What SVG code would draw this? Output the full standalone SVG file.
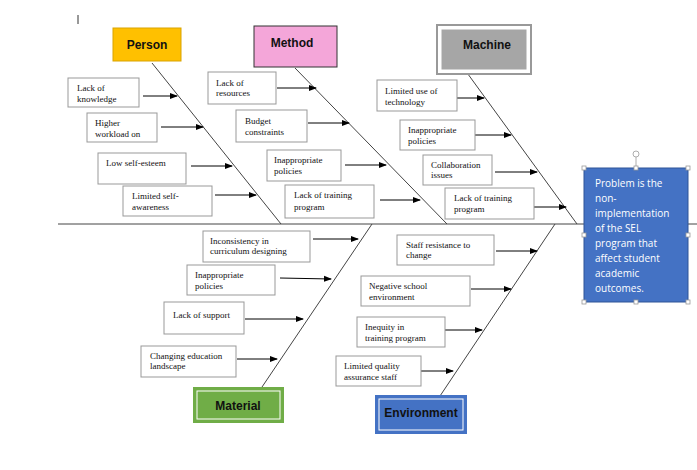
<svg xmlns="http://www.w3.org/2000/svg" width="697" height="470" viewBox="0 0 697 470">
<defs><marker id="ah" markerWidth="8" markerHeight="8" refX="7" refY="4" orient="auto" markerUnits="userSpaceOnUse"><path d="M0,1 L8,4 L0,7 Z" fill="#000"/></marker></defs>
<style>
.c rect{fill:#fff;stroke:#999;stroke-width:1}
.c text{font-family:"Liberation Serif",serif;font-size:9px;fill:#111}
.h{font-family:"Liberation Sans",Arial,sans-serif;font-size:12px;font-weight:bold;fill:#111;text-anchor:middle}
.a line{stroke:#000;stroke-width:1;marker-end:url(#ah)}
.b line{stroke:#444;stroke-width:1}
.hd{fill:#fff;stroke:#999;stroke-width:0.8}
</style>
<rect width="697" height="470" fill="#fff"/>
<line x1="78" y1="15" x2="78" y2="24" stroke="#333"/>
<g id="bones" class="b">
<line x1="58" y1="224" x2="697" y2="224"/>
<line x1="152" y1="63" x2="281" y2="224"/>
<line x1="295" y1="68" x2="447" y2="224"/>
<line x1="465" y1="70" x2="577" y2="224"/>
<line x1="262" y1="387" x2="372" y2="224"/>
<line x1="440" y1="396" x2="555" y2="224"/>
</g>
<g id="connectors" class="a">
<line x1="143" y1="96" x2="177" y2="96"/>
<line x1="161" y1="127" x2="203" y2="127"/>
<line x1="191" y1="166" x2="232" y2="166"/>
<line x1="215" y1="195" x2="256" y2="195"/>
<line x1="277" y1="88" x2="316" y2="88"/>
<line x1="308" y1="123" x2="349" y2="123"/>
<line x1="345" y1="165" x2="386" y2="165"/>
<line x1="380" y1="200" x2="420" y2="200"/>
<line x1="455" y1="98" x2="484" y2="98"/>
<line x1="475" y1="135" x2="511" y2="135"/>
<line x1="495" y1="172" x2="537" y2="172"/>
<line x1="534" y1="207" x2="566" y2="207"/>
<line x1="313" y1="239" x2="358" y2="239"/>
<line x1="280" y1="278" x2="331" y2="279"/>
<line x1="245" y1="319" x2="303" y2="319"/>
<line x1="237" y1="359" x2="277" y2="359"/>
<line x1="496" y1="251" x2="537" y2="251"/>
<line x1="471" y1="289" x2="511" y2="289"/>
<line x1="445" y1="330" x2="482" y2="330"/>
<line x1="421" y1="371" x2="453" y2="371"/>
</g>
<g id="person"><rect x="113" y="28" width="68" height="33" fill="#ffc000" stroke="#d9a300"/><text class="h" x="147" y="49">Person</text></g>
<g id="method"><rect x="254" y="26" width="83" height="41" fill="#f4a6d9" stroke="#333"/><text class="h" x="292" y="47">Method</text></g>
<g id="machine"><rect x="437" y="25" width="94" height="49" fill="#fff" stroke="#999" stroke-width="2"/><rect x="441" y="29" width="86" height="41" fill="#a6a6a6" stroke="#fff" stroke-width="1"/><text class="h" x="487" y="49">Machine</text></g>
<g id="material"><rect x="193" y="387" width="91" height="36" fill="#70ad47"/><rect x="197" y="391" width="83" height="28" fill="#70ad47" stroke="#fff"/><text class="h" x="238" y="410">Material</text></g>
<g id="environment"><rect x="375" y="395" width="92" height="39" fill="#4472c4"/><rect x="379" y="399" width="84" height="31" fill="#4472c4" stroke="#fff"/><text class="h" x="421" y="417">Environment</text></g>
<g id="problem">
<rect x="584" y="168" width="104" height="134" fill="#4472c4" stroke="#2f5597"/>
<g font-family="'Open Sans','Liberation Sans',sans-serif" font-size="10px" fill="#fff">
<text x="595" y="187">Problem is the</text><text x="595" y="202">non-</text><text x="595" y="217">implementation</text><text x="595" y="232">of the SEL</text><text x="595" y="247">program that</text><text x="595" y="262">affect student</text><text x="595" y="277">academic</text><text x="595" y="292">outcomes.</text></g>
<circle class="hd" cx="636" cy="154" r="3"/>
<line x1="636" y1="157" x2="636" y2="166" stroke="#999" stroke-width="0.8"/>
<rect class="hd" x="582" y="166" width="4" height="4"/><rect class="hd" x="634" y="166" width="4" height="4"/><rect class="hd" x="686" y="166" width="4" height="4"/>
<rect class="hd" x="582" y="233" width="4" height="4"/><rect class="hd" x="686" y="233" width="4" height="4"/>
<rect class="hd" x="582" y="300" width="4" height="4"/><rect class="hd" x="634" y="300" width="4" height="4"/><rect class="hd" x="686" y="300" width="4" height="4"/>
</g>
<g id="p1" class="c"><rect x="68" y="78" width="71" height="29"/><text x="77" y="91">Lack of</text><text x="77" y="102">knowledge</text></g>
<g id="p2" class="c"><rect x="87" y="113" width="70" height="29"/><text x="95" y="126">Higher</text><text x="95" y="137">workload on</text></g>
<g id="p3" class="c"><rect x="98" y="153" width="88" height="31"/><text x="106" y="166">Low self-esteem</text></g>
<g id="p4" class="c"><rect x="123" y="186" width="89" height="30"/><text x="132" y="199">Limited self-</text><text x="132" y="210">awareness</text></g>
<g id="m1" class="c"><rect x="208" y="72" width="68" height="32"/><text x="216" y="86">Lack of</text><text x="216" y="96">resources</text></g>
<g id="m2" class="c"><rect x="236" y="110" width="71" height="32"/><text x="245" y="124">Budget</text><text x="245" y="135">constraints</text></g>
<g id="m3" class="c"><rect x="267" y="150" width="74" height="31"/><text x="274" y="163">Inappropriate</text><text x="274" y="174">policies</text></g>
<g id="m4" class="c"><rect x="285" y="185" width="89" height="33"/><text x="294" y="198">Lack of training</text><text x="294" y="210">program</text></g>
<g id="h1" class="c"><rect x="377" y="80" width="80" height="31"/><text x="385" y="94">Limited use of</text><text x="385" y="105">technology</text></g>
<g id="h2" class="c"><rect x="400" y="120" width="75" height="30"/><text x="408" y="133">Inappropriate</text><text x="408" y="144">policies</text></g>
<g id="h3" class="c"><rect x="423" y="155" width="69" height="30"/><text x="431" y="168">Collaboration</text><text x="431" y="178">issues</text></g>
<g id="h4" class="c"><rect x="445" y="188" width="89" height="31"/><text x="454" y="201">Lack of training</text><text x="454" y="212">program</text></g>
<g id="t1" class="c"><rect x="203" y="231" width="107" height="31"/><text x="210" y="244">Inconsistency in</text><text x="210" y="254">curriculum designing</text></g>
<g id="t2" class="c"><rect x="187" y="265" width="88" height="30"/><text x="195" y="278">Inappropriate</text><text x="195" y="289">policies</text></g>
<g id="t3" class="c"><rect x="164" y="302" width="80" height="32"/><text x="173" y="318">Lack of support</text></g>
<g id="t4" class="c"><rect x="141" y="346" width="95" height="31"/><text x="150" y="359">Changing education</text><text x="150" y="369">landscape</text></g>
<g id="e1" class="c"><rect x="397" y="235" width="97" height="30"/><text x="406" y="248">Staff resistance to</text><text x="406" y="258">change</text></g>
<g id="e2" class="c"><rect x="361" y="276" width="109" height="30"/><text x="369" y="289">Negative school</text><text x="369" y="300">environment</text></g>
<g id="e3" class="c"><rect x="357" y="317" width="88" height="30"/><text x="365" y="330">Inequity in</text><text x="365" y="341">training program</text></g>
<g id="e4" class="c"><rect x="336" y="356" width="85" height="30"/><text x="344" y="369">Limited quality</text><text x="344" y="380">assurance staff</text></g>
</svg>
